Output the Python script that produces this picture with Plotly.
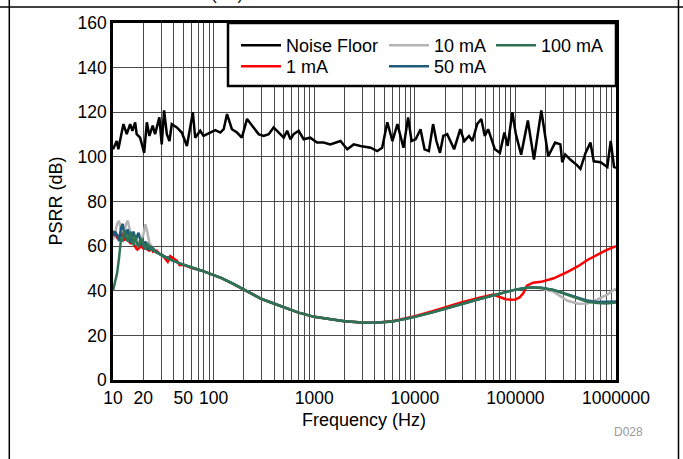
import plotly.graph_objects as go

# ---------------- data ----------------
nf_freq = [10, 10.9, 11.3, 12.7, 13.7, 14.8, 15.6, 16.6, 17.2, 18.6, 20.4, 21.7, 23.0, 24.8,
           26.2, 28.9, 30.5, 32.2, 34.3, 36.4, 38.4, 43.1, 48.3, 54.3, 62.2, 65.6, 73.6, 79.4,
           92.4, 103.9, 116.6, 126, 136, 152, 171, 191, 215, 249, 280, 314, 353, 395, 444,
           498, 538, 581, 624, 701, 785, 913, 1066, 1240, 1444, 1826, 2130, 2470, 2880, 3640,
           4230, 4740, 5330, 5990, 6720, 7720, 8580, 9280, 10200, 11400, 12500, 13800, 15200,
           16400, 17800, 19200, 21000, 24600, 28300, 31000, 34600, 37400, 41700, 45800, 49600,
           53600, 62500, 70200, 77700, 83800, 93300, 101000, 114000, 133000, 153000, 181000,
           212000, 248000, 280000, 292000, 313000, 351000, 409000, 443000, 498000, 557000,
           601000, 704000, 820000, 886000, 956000, 1000000]
nf_psrr = [103.4, 107.1, 103.4, 114.7, 110.2, 114.7, 111.7, 115.5, 110.2, 108.6, 101.8, 115.5,
           109.4, 114.0, 110.2, 117.7, 105.6, 120.8, 110.2, 107.1, 114.7, 113.2, 110.9, 104.9,
           120.0, 108.6, 111.7, 109.4, 110.9, 112.0, 110.9, 112.4, 119.2, 112.4, 110.9, 108.6,
           117.0, 113.2, 110.2, 109.4, 110.2, 113.2, 110.9, 108.6, 111.7, 107.9, 110.2, 111.7,
           107.9, 108.6, 106.4, 106.4, 105.6, 107.1, 103.4, 105.6, 104.9, 104.1, 102.6, 104.1,
           115.5, 107.1, 114.7, 104.1, 117.7, 107.1, 107.9, 112.4, 103.4, 102.6, 114.7, 107.1,
           101.8, 109.4, 110.2, 103.4, 112.4, 107.1, 109.4, 107.1, 114.7, 117.0, 109.4, 112.4,
           103.4, 101.8, 110.9, 104.9, 120.0, 110.2, 101.0, 116.3, 98.8, 120.8, 100.3, 106.4,
           105.6, 97.6, 101.1, 98.8, 96.3, 94.6, 101.8, 106.4, 98.0, 97.6, 95.5, 107.1, 95.5,
           95.0]

freq = [10, 10.5, 11, 11.5, 12, 12.5, 13, 13.5, 14, 14.5, 15, 15.5, 16, 16.5, 17, 17.5, 18,
        19, 20, 21, 22, 23, 24, 25, 27, 29, 31, 33, 35, 37, 40, 43, 46, 50, 55, 60, 70, 80,
        100, 120, 150, 200, 300, 500, 700, 1000, 1500, 2000, 3000, 4000, 6000, 8000, 10000,
        15000, 20000, 30000, 45000, 60000, 70000, 80000, 90000, 100000, 110000, 120000,
        130000, 150000, 180000, 240000, 330000, 420000, 520000, 650000, 800000, 1000000]

psrr_1ma = [66.8, 65.0, 63.8, 64.5, 66.0, 64.0, 62.5, 64.0, 63.5, 62.0, 61.0, 62.5, 61.0, 60.0,
            59.0, 58.5, 59.0, 60.0, 59.0, 60.0, 58.5, 58.0, 59.0, 57.5, 58.0, 56.5, 56.0, 54.7,
            53.0, 55.5, 54.5, 53.5, 51.5, 51.7, 51.0, 50.3, 49.5, 48.7, 47.0, 45.7, 43.5, 40.6,
            36.3, 32.6, 30.2, 28.3, 27.0, 26.3, 25.8, 25.7, 26.3, 27.4, 28.6, 30.8, 32.6, 35.0,
            37.0, 38.3, 37.2, 36.2, 36.0, 36.1, 37.0, 39.0, 42.3, 43.6, 44.0, 45.6, 48.5, 51.0,
            53.8, 56.2, 58.2, 60.0]
psrr_10ma = [63.0, 66.0, 70.0, 71.4, 67.0, 63.0, 66.0, 70.0, 71.4, 68.0, 64.5, 63.0, 62.5,
             61.5, 62.0, 61.5, 62.0, 63.0, 65.0, 69.8, 66.0, 61.5, 60.0, 59.0, 57.5, 56.5,
             55.5, 55.3, 54.5, 54.0, 53.5, 53.0, 52.3, 51.7, 51.0, 50.3, 49.5, 48.7, 47.0,
             45.7, 43.5, 40.6, 36.3, 32.6, 30.2, 28.3, 27.0, 26.3, 25.8, 25.7, 26.2, 27.2,
             28.3, 30.3, 32.0, 34.2, 36.4, 38.0, 38.8, 39.4, 40.0, 40.5, 40.8, 41.1, 41.3,
             41.5, 41.0, 39.5, 35.5, 34.2, 34.3, 36.0, 38.0, 41.0]
psrr_50ma = [64.5, 66.5, 65.0, 62.3, 68.0, 70.0, 64.5, 65.0, 67.5, 64.0, 61.5, 64.0, 66.5,
             64.0, 63.0, 65.0, 66.0, 61.0, 60.0, 62.0, 59.5, 58.5, 60.0, 58.0, 57.5, 56.5,
             56.0, 55.0, 55.0, 54.0, 53.5, 53.0, 52.3, 51.7, 51.0, 50.3, 49.5, 48.7, 47.0,
             45.7, 43.5, 40.6, 36.3, 32.6, 30.2, 28.3, 27.0, 26.3, 25.8, 25.7, 26.2, 27.2,
             28.3, 30.3, 32.0, 34.2, 36.4, 38.0, 38.8, 39.4, 40.0, 40.5, 40.8, 41.1, 41.3,
             41.5, 41.3, 40.3, 38.3, 36.9, 35.6, 35.0, 35.0, 35.2]
psrr_100ma = [40.0, 44.0, 48.0, 55.0, 63.0, 62.5, 67.0, 65.0, 62.0, 64.5, 66.5, 62.0, 60.5,
              65.0, 63.0, 60.5, 60.0, 63.5, 61.0, 58.5, 61.0, 60.0, 58.5, 59.0, 57.0, 56.5,
              55.5, 55.3, 54.5, 54.0, 53.5, 53.0, 52.3, 51.7, 51.0, 50.3, 49.5, 48.7, 47.0,
              45.7, 43.5, 40.6, 36.3, 32.6, 30.2, 28.3, 27.0, 26.3, 25.8, 25.7, 26.2, 27.2,
              28.3, 30.3, 32.0, 34.2, 36.4, 38.0, 38.8, 39.4, 40.0, 40.5, 40.8, 41.1, 41.3,
              41.5, 41.3, 40.3, 38.1, 36.5, 35.1, 34.5, 34.3, 34.7]

x_label_vals = [10, 20, 50, 100, 1000, 10000, 100000, 1000000]
x_label_text = ["10", "20", "50", "100", "1000", "10000", "100000", "1000000"]
y_tick_vals = [0, 20, 40, 60, 80, 100, 120, 140, 160]

# ---------------- layout helpers ----------------
W, H = 683, 459
L, R, T, B = 113, 616, 23, 380
pw, ph = R - L, B - T


def px(x):
    return (x - L) / pw


def py(y):
    return (B - y) / ph


grid_vals = []
grid_text = []
for d in range(1, 6):
    for m in range(1, 10):
        v = m * 10 ** d
        grid_vals.append(v)
        grid_text.append(x_label_text[x_label_vals.index(v)] if v in x_label_vals else "")
grid_vals.append(10 ** 6)
grid_text.append("1000000")

FONT = "Liberation Sans, Arial, sans-serif"
C_NF, C_1, C_10, C_50, C_100 = "#000000", "#ff0000", "#b4b4b4", "#1f5b7a", "#2e7454"
LW = 2.5

fig = go.Figure()
fig.add_trace(go.Scatter(x=freq, y=psrr_10ma, mode="lines", name="10 mA",
                         line=dict(color=C_10, width=LW), legend="legend2"))
fig.add_trace(go.Scatter(x=freq, y=psrr_1ma, mode="lines", name="1 mA",
                         line=dict(color=C_1, width=LW), legend="legend4"))
fig.add_trace(go.Scatter(x=freq, y=psrr_50ma, mode="lines", name="50 mA",
                         line=dict(color=C_50, width=LW), legend="legend5"))
fig.add_trace(go.Scatter(x=freq, y=psrr_100ma, mode="lines", name="100 mA",
                         line=dict(color=C_100, width=LW), legend="legend3"))
fig.add_trace(go.Scatter(x=nf_freq, y=nf_psrr, mode="lines", name="Noise Floor",
                         line=dict(color=C_NF, width=LW), legend="legend"))

leg_common = dict(xanchor="left", yanchor="top", bgcolor="rgba(0,0,0,0)", borderwidth=0,
                  font=dict(family=FONT, size=18, color="black"), itemwidth=40,
                  tracegroupgap=0, orientation="v")
row1, row2 = py(27), py(48)
col1, col2, col3 = px(236), px(384), px(491)

fig.update_layout(
    width=W, height=H,
    margin=dict(l=L, r=W - R, t=T, b=H - B, pad=0),
    paper_bgcolor="white", plot_bgcolor="white",
    font=dict(family=FONT, size=17, color="black"),
    showlegend=True,
    legend=dict(x=col1, y=row1, **leg_common),
    legend2=dict(x=col2, y=row1, **leg_common),
    legend3=dict(x=col3, y=row1, **leg_common),
    legend4=dict(x=col1, y=row2, **leg_common),
    legend5=dict(x=col2, y=row2, **leg_common),
    xaxis=dict(type="log", range=[1, 6], tickmode="array", tickvals=grid_vals,
               ticktext=grid_text, showgrid=True, gridcolor="#4a4a4a", gridwidth=1,
               showline=True, linecolor="black", linewidth=2.5, mirror=True,
               ticks="", zeroline=False, tickfont=dict(size=17.5)),
    yaxis=dict(range=[0, 160], tickmode="array", tickvals=y_tick_vals,
               showgrid=True, gridcolor="#4a4a4a", gridwidth=1,
               showline=True, linecolor="black", linewidth=2.5, mirror=True,
               ticks="", zeroline=False, tickfont=dict(size=17.5)),
)

shapes = [
    # legend box
    dict(type="rect", xref="paper", yref="paper", x0=px(228), x1=1.0, y0=py(86), y1=1.0,
         line=dict(color="black", width=2.5), fillcolor="white", layer="above"),
    # outer frame lines
    dict(type="line", xref="paper", yref="paper", x0=px(0), x1=px(W), y0=py(7), y1=py(7),
         line=dict(color="black", width=1.5)),
    dict(type="line", xref="paper", yref="paper", x0=px(9.3), x1=px(9.3), y0=py(0), y1=py(H),
         line=dict(color="black", width=1.5)),
    dict(type="line", xref="paper", yref="paper", x0=px(678.5), x1=px(678.5), y0=py(0), y1=py(H),
         line=dict(color="black", width=1.5)),
]
fig.update_layout(shapes=shapes)

fig.add_annotation(text="PSRR (dB)", xref="paper", yref="paper", x=px(55), y=0.5,
                   xanchor="center", yanchor="middle", textangle=-90, showarrow=False,
                   font=dict(family=FONT, size=18, color="black"))
fig.add_annotation(text="Frequency (Hz)", xref="paper", yref="paper", x=px(364), y=py(420),
                   xanchor="center", yanchor="middle", showarrow=False,
                   font=dict(family=FONT, size=18, color="black"))
fig.add_annotation(text="D028", xref="paper", yref="paper", x=px(628), y=py(432),
                   xanchor="center", yanchor="middle", showarrow=False,
                   font=dict(family=FONT, size=12, color="#9a9a9a"))
fig.add_annotation(text="(dB)", xref="paper", yref="paper", x=px(227), y=py(6),
                   xanchor="center", yanchor="bottom", showarrow=False,
                   font=dict(family=FONT, size=17, color="black"))

fig.write_html("out.html", config={"displayModeBar": False},
               post_script="document.body.style.margin='0px';")
